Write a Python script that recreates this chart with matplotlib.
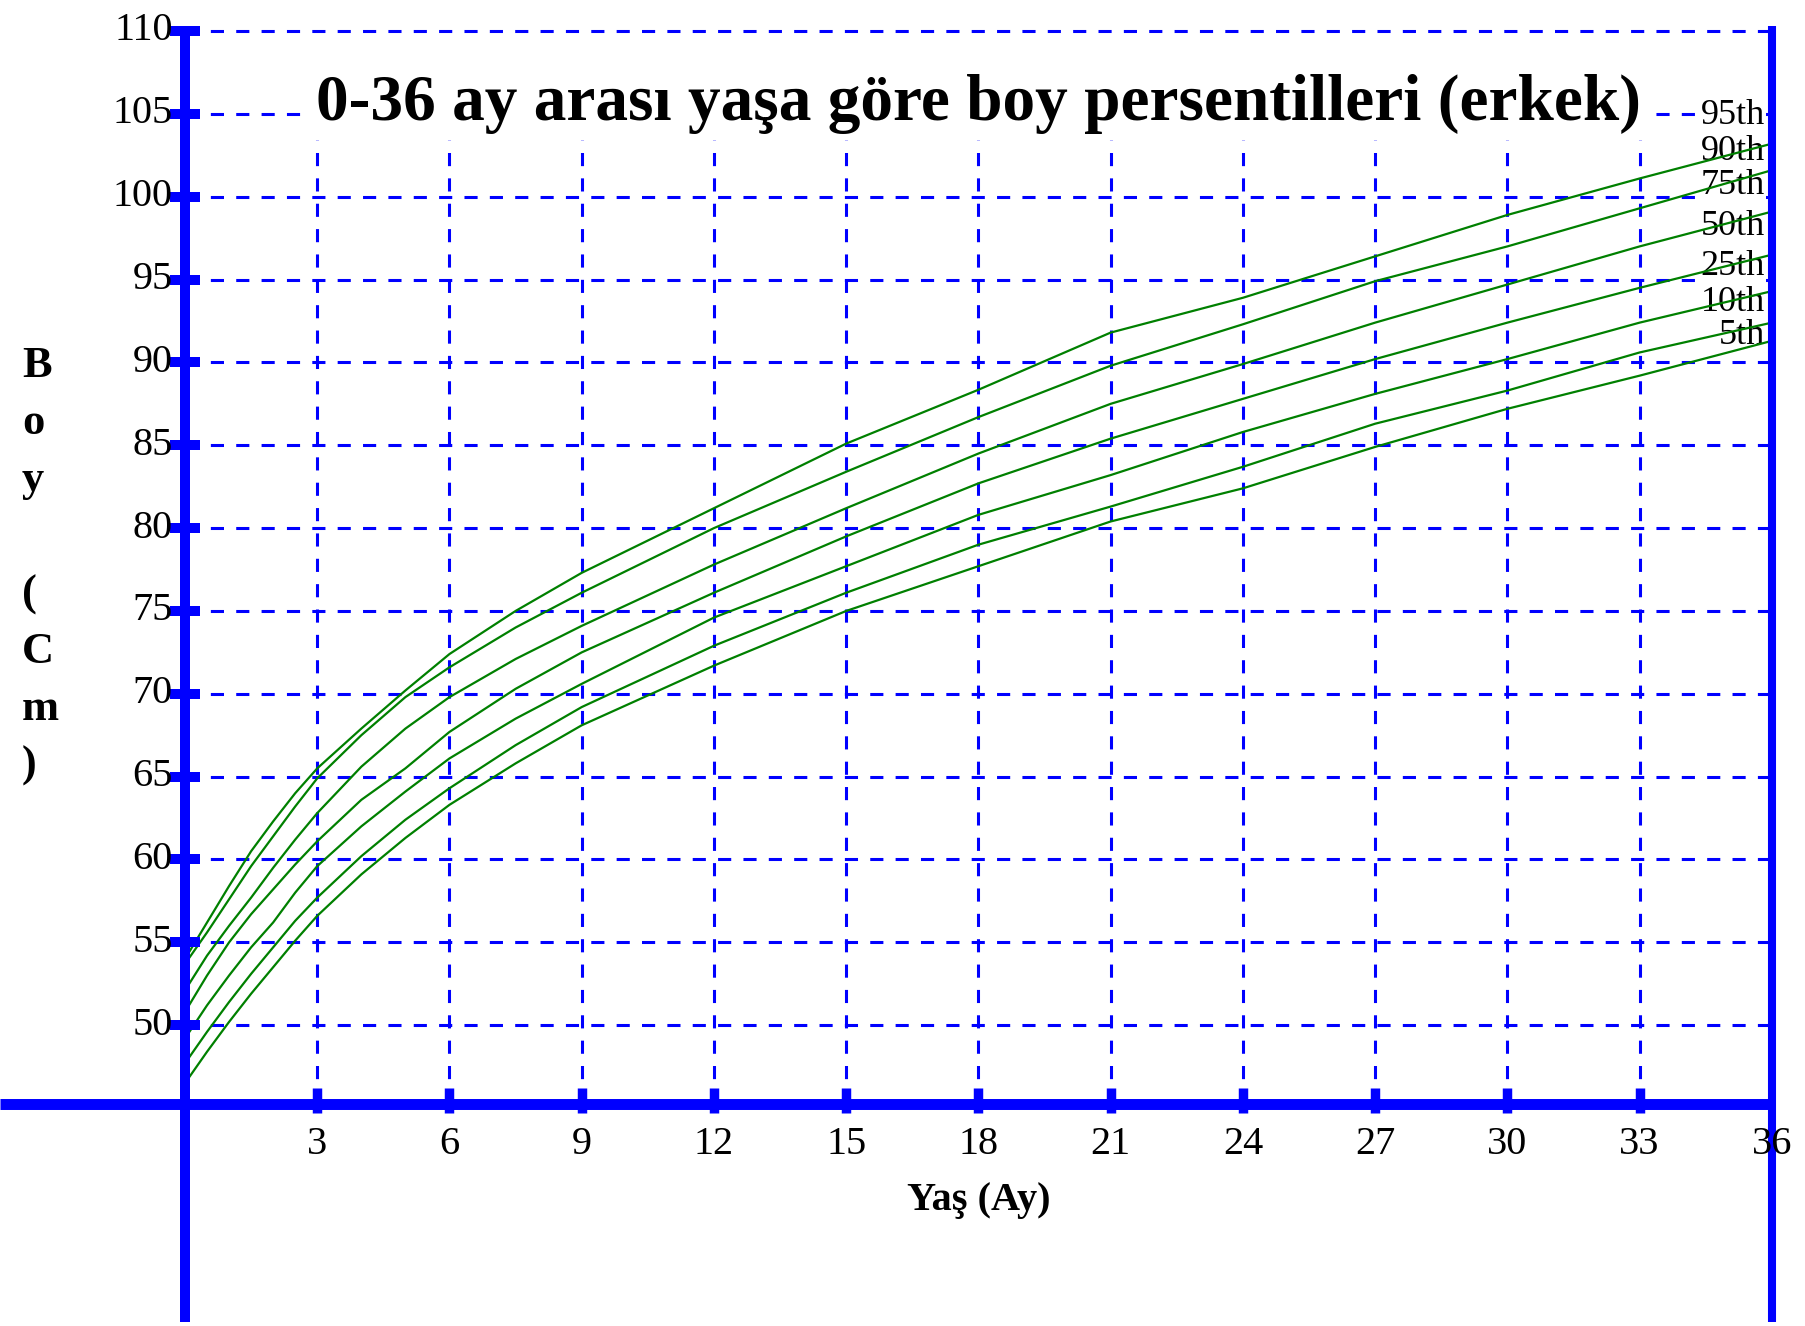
import matplotlib
matplotlib.use("Agg")
import matplotlib.pyplot as plt

# age in months and length (cm)
months = [0, 0.5, 1, 1.5, 2, 2.5, 3, 4, 5, 6, 7.5, 9, 12, 15, 18, 21, 24, 27, 30, 33, 36]
p95 = [54.0, 56.2, 58.4, 60.5, 62.3, 64.0, 65.5, 67.9, 70.2, 72.4, 75.0, 77.3,
       81.2, 85.1, 88.35, 91.8, 93.9, 96.4, 98.9, 101.1, 103.2]
p90 = [53.7, 55.6, 57.6, 59.6, 61.4, 63.2, 64.9, 67.5, 69.8, 71.6, 74.0, 76.1,
       80.0, 83.4, 86.7, 89.8, 92.3, 94.9, 97.0, 99.3, 101.6]
p75 = [52.1, 54.2, 56.0, 57.7, 59.5, 61.2, 62.8, 65.6, 67.9, 69.8, 72.1, 74.1,
       77.8, 81.2, 84.5, 87.5, 89.9, 92.4, 94.7, 97.0, 99.1]
p50 = [50.8, 53.0, 55.0, 56.7, 58.2, 59.7, 61.1, 63.6, 65.5, 67.7, 70.3, 72.5,
       76.1, 79.5, 82.7, 85.4, 87.8, 90.2, 92.4, 94.5, 96.5]
p25 = [49.2, 51.2, 53.0, 54.7, 56.2, 58.0, 59.6, 62.0, 64.1, 66.1, 68.5, 70.6,
       74.6, 77.7, 80.8, 83.2, 85.8, 88.1, 90.2, 92.4, 94.3]
p10 = [47.7, 49.6, 51.4, 53.1, 54.7, 56.3, 57.7, 60.2, 62.4, 64.3, 66.9, 69.2,
       72.9, 76.1, 79.0, 81.3, 83.7, 86.3, 88.3, 90.6, 92.4]
p5 = [46.5, 48.4, 50.2, 51.9, 53.5, 55.1, 56.6, 59.1, 61.3, 63.3, 65.8, 68.1,
      71.7, 75.0, 77.7, 80.4, 82.4, 84.9, 87.2, 89.2, 91.3]

curves = [p95, p90, p75, p50, p25, p10, p5]
curve_names = ["95th", "90th", "75th", "50th", "25th", "10th", "5th"]
curve_label_y = [104.9, 102.7, 100.7, 98.2, 95.8, 93.6, 91.6]

y_ticks = list(range(50, 111, 5))
x_ticks = list(range(3, 37, 3))

title = "0-36 ay arası yaşa göre boy persentilleri (erkek)"
x_label = "Yaş (Ay)"
y_label = "B\no\ny\n\n(\nC\nm\n)"

# figure geometry (pixels) -> data limits
W, H = 1806, 1326
X0_PX, PX_PER_MONTH = 185, 44.08
Y110_PX, PX_PER_CM = 31, 16.57
X_AXIS_Y = 110 - (1104.5 - Y110_PX) / PX_PER_CM
GRID_TOP = 103.4

BLUE = "#0000ff"
GREEN = "#008000"
SERIF = ["Liberation Serif", "DejaVu Serif"]


def main() -> int:
    fig = plt.figure(figsize=(W / 100, H / 100), dpi=100)
    ax = fig.add_axes([0, 0, 1, 1])
    ax.set_xlim(-X0_PX / PX_PER_MONTH, (W - X0_PX) / PX_PER_MONTH)
    ax.set_ylim(110 - (H - Y110_PX) / PX_PER_CM, 110 + Y110_PX / PX_PER_CM)
    ax.axis("off")

    dash = (0, (4.3, 4.0))
    ax.hlines(y_ticks, 0, 36, colors=BLUE, linewidth=2.2, linestyles=[dash], zorder=1)
    ax.vlines(x_ticks, X_AXIS_Y, GRID_TOP, colors=BLUE, linewidth=2.2, linestyles=[dash], zorder=1)

    # axis lines
    y_bottom = 110 - (1322 - Y110_PX) / PX_PER_CM
    y_top = 110 + 5 / PX_PER_CM
    ax.vlines(0, y_bottom, y_top, colors=BLUE, linewidth=7.2, zorder=5)
    ax.vlines(36, y_bottom, y_top, colors=BLUE, linewidth=5.8, zorder=5)
    ax.hlines(X_AXIS_Y, ax.get_xlim()[0], 36, colors=BLUE, linewidth=7.9, zorder=5)

    # tick marks
    half = 15 / PX_PER_MONTH
    ax.hlines(y_ticks, -half, half, colors=BLUE, linewidth=7.2, zorder=5)
    ax.vlines(x_ticks[:-1], X_AXIS_Y - 9 / PX_PER_CM, X_AXIS_Y + 16 / PX_PER_CM,
              colors=BLUE, linewidth=6.8, zorder=5)

    for v in y_ticks:
        ax.text(-12 / PX_PER_MONTH, v, str(v), ha="right", va="center",
                fontsize=29, family=SERIF, color="black", zorder=6)
    for m in x_ticks:
        ax.text(m, 110 - (1144 - Y110_PX) / PX_PER_CM, str(m), ha="center", va="center",
                fontsize=29, family=SERIF, color="black", zorder=6)

    # percentile labels sit under the curves
    for name, ly in zip(curve_names, curve_label_y):
        ax.text((1765 - X0_PX) / PX_PER_MONTH, ly, name, ha="right", va="center",
                fontsize=26, family=SERIF, color="black", zorder=3,
                bbox=dict(facecolor="white", edgecolor="none", pad=0.5))

    for values in curves:
        ax.plot(months, values, color=GREEN, linewidth=1.6, zorder=4)

    ax.text(18, 110 - (120 - Y110_PX) / PX_PER_CM, title, ha="center", va="baseline",
            fontsize=47, fontweight="bold", family=SERIF, color="black", zorder=3,
            bbox=dict(facecolor="white", edgecolor="none", pad=4))
    ax.text(18, 110 - (1201 - Y110_PX) / PX_PER_CM, x_label, ha="center", va="center",
            fontsize=29, fontweight="bold", family=SERIF, color="black")
    ax.text((22 - X0_PX) / PX_PER_MONTH, 110 - (566 - Y110_PX) / PX_PER_CM, y_label,
            ha="left", va="center", multialignment="left", linespacing=1.55,
            fontsize=32, fontweight="bold", family=SERIF, color="black")

    fig.savefig("out.png", dpi=100)
    plt.close(fig)
    return 0


if __name__ == "__main__":
    raise SystemExit(main())
